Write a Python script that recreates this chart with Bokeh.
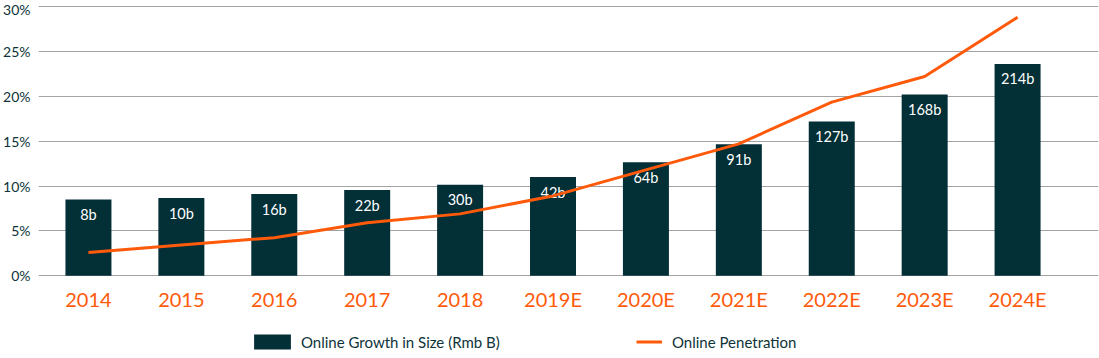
from bokeh.plotting import figure
from bokeh.models import (ColumnDataSource, FixedTicker, PrintfTickFormatter,
                          Legend, LegendItem, Range1d)
from bokeh.core.properties import value
from bokeh.embed import file_html
from bokeh.resources import INLINE

# ---- data ----
years = ["2014", "2015", "2016", "2017", "2018", "2019E", "2020E",
         "2021E", "2022E", "2023E", "2024E"]
bar_heights = [8.5, 8.66, 9.1, 9.55, 10.14, 11.0, 12.65, 14.65, 17.2, 20.2, 23.6]
bar_labels = ["8b", "10b", "16b", "22b", "30b", "42b", "64b", "91b",
              "127b", "168b", "214b"]
penetration = [2.6, 3.44, 4.25, 5.9, 6.9, 8.9, 11.8, 14.7, 19.35, 22.2, 28.8]
y_ticks = [0, 5, 10, 15, 20, 25, 30]

BAR = "#032f37"
ORANGE = "#ff5a0a"
TEXT = "#0d3338"
GRID = "#a3a3a3"
FONT = "Lato"

xs = list(range(len(years)))
src = ColumnDataSource(dict(x=xs, h=bar_heights, lab=bar_labels, pen=penetration))

p = figure(width=1099, height=358, output_backend="svg", toolbar_location=None,
           x_range=Range1d(-0.5376, 10.871), y_range=Range1d(-9.21, 30.668),
           min_border_left=37, min_border_right=1, min_border_top=0,
           min_border_bottom=0)
p.outline_line_color = None
p.background_fill_color = "white"
p.border_fill_color = "white"

bars = p.vbar(x="x", top="h", bottom=0, width=0.495, source=src,
              fill_color=BAR, line_color=None)
p.text(x="x", y="h", text="lab", source=src, text_color="white",
       text_font=value(FONT), text_font_size="14.5px", text_align="center",
       text_baseline="middle", y_offset=15)
line = p.line(x="x", y="pen", source=src, line_color=ORANGE, line_width=3)

# axes
p.xaxis.fixed_location = 0
p.xaxis.ticker = FixedTicker(ticks=xs)
p.xaxis.major_label_overrides = {i: y for i, y in enumerate(years)}
p.xaxis.major_label_text_color = ORANGE
p.xaxis.major_label_text_font = FONT
p.xaxis.major_label_text_font_size = "20px"
p.xaxis.major_label_standoff = 11
p.xaxis.major_tick_out = 0
p.xaxis.major_tick_in = 0
p.xaxis.axis_line_color = None
p.xaxis.major_tick_line_color = None
p.xaxis.minor_tick_line_color = None
p.xgrid.grid_line_color = None

p.yaxis.ticker = FixedTicker(ticks=y_ticks)
p.yaxis.formatter = PrintfTickFormatter(format="%d%%")
p.yaxis.major_label_text_color = TEXT
p.yaxis.major_label_text_font = FONT
p.yaxis.major_label_text_font_size = "14px"
p.yaxis.major_label_standoff = 8
p.yaxis.major_tick_out = 0
p.yaxis.major_tick_in = 0
p.yaxis.axis_line_color = None
p.yaxis.major_tick_line_color = None
p.yaxis.minor_tick_line_color = None
p.ygrid.grid_line_color = GRID
p.ygrid.grid_line_width = 1

# legends
def mk_legend(item, loc, gw, gh, standoff):
    return Legend(items=[item], location=loc, orientation="horizontal",
                  glyph_width=gw, glyph_height=gh, label_standoff=standoff,
                  label_text_font=FONT, label_text_font_size="15px",
                  label_text_color=TEXT, padding=0, margin=0, spacing=0,
                  border_line_alpha=0, background_fill_alpha=0,
                  label_height=19)

leg1 = mk_legend(LegendItem(label="Online Growth in Size (Rmb B)", renderers=[bars]),
                 (211, 7), 46, 19, 6)
leg2 = mk_legend(LegendItem(label="Online Penetration", renderers=[line]),
                 (598, 7), 26, 19, 10)
p.add_layout(leg1)
p.add_layout(leg2)

open("out.html", "w").write(file_html(p, INLINE))
